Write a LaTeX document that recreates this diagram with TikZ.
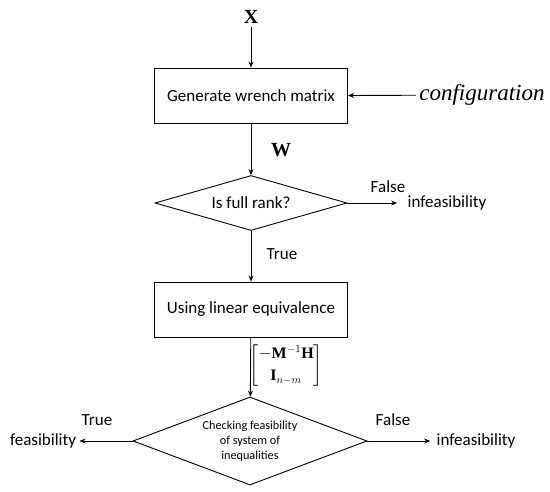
\documentclass[tikz,border=0pt]{standalone}
\usepackage{amsmath}
\usepackage{fontspec}
\setmainfont{Carlito}
\newfontfamily\timesfont{Liberation Serif}
\usetikzlibrary{shapes.geometric,arrows.meta}

\tikzset{
  process/.style={draw,line width=0.9pt,minimum width=193pt,minimum height=55pt,
    font=\fontsize{17}{20}\selectfont},
  decision/.style={draw,diamond,line width=0.9pt,inner sep=0pt,aspect=3.5},
  plain text/.style={font=\fontsize{17}{20}\selectfont},
  serif bold/.style={font=\fontsize{20}{24}\selectfont\timesfont\bfseries},
  flow/.style={line width=0.9pt,-{Stealth[length=6pt,width=5pt]}},
}

\begin{document}
\begin{tikzpicture}[x=1pt,y=-1pt]
\useasboundingbox (0,0) rectangle (550,492);

% main column
\node[serif bold] (x) at (251,17) {X};
\node[process] (wrench) at (251,95.5) {Generate wrench matrix};
\node[font=\fontsize{23}{26}\selectfont\timesfont\itshape] (config) at (482,95) {configuration};
\node[decision,minimum width=192pt,minimum height=55pt,font=\fontsize{17}{20}\selectfont] (rank) at (251,203) {Is full rank?};
\node[process] (linear) at (251,309.5) {Using linear equivalence};
\node[decision,minimum width=234pt,minimum height=88pt,aspect=2.7,
  font=\fontsize{12.2}{15}\selectfont,align=center] (check) at (250,441)
  {Checking feasibility\\of system of\\inequalities};

% outcomes
\node[plain text] (infeas1) at (447,203) {infeasibility};
\node[plain text] (infeas2) at (476,441) {infeasibility};
\node[plain text] (feas) at (43,441) {feasibility};

% edges
\draw[flow] (x) -- (wrench);
\draw[flow] (config) -- (wrench.east);
\draw[flow] (wrench) -- (rank);
\draw[flow,shorten >=7pt] (rank.east) -- (infeas1);
\draw[flow] (rank) -- (linear);
\draw[flow] (linear) -- (check);
\draw[flow,shorten >=3pt] (check.east) -- (infeas2);
\draw[flow] (check.west) -- (feas);

% edge labels
\node[serif bold] (w) at (281,150) {W};
\node[plain text] (false1) at (388,187) {False};
\node[plain text] (true1) at (282,254) {True};
\node[font=\fontsize{16}{19}\selectfont] (mat) at (286,366)
  {$\begin{bmatrix}-\text{\timesfont\bfseries M}^{-1}\text{\timesfont\bfseries H}\\[3pt]
  \text{\timesfont\bfseries I}_{n-m}\end{bmatrix}$};
\node[plain text] (true2) at (97,420) {True};
\node[plain text] (false2) at (393,420) {False};
\end{tikzpicture}
\end{document}
